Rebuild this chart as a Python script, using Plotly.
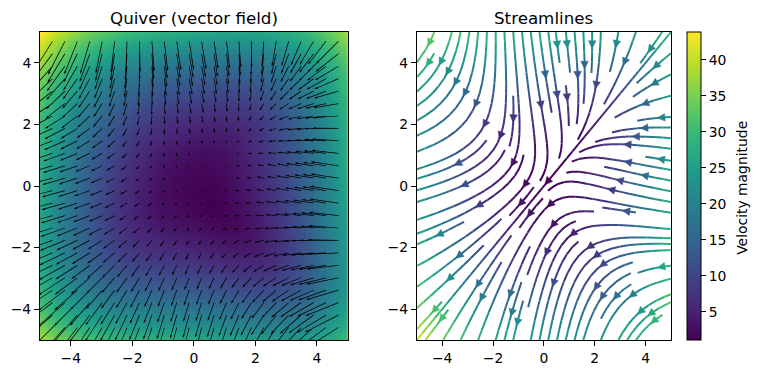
import numpy as np
import plotly.graph_objects as go
from plotly.colors import sample_colorscale

# ------------------------------------------------------------------ data
# grid of the vector field (100 x 100 samples over [-5, 5])
x_values = np.linspace(-5, 5, 100)
y_values = np.linspace(-5, 5, 100)
# field:  U = -1 - x^2 + y ,  V = -1 + x - y^2
u_const, u_x2, u_y = -1.0, -1.0, 1.0
v_const, v_x, v_y2 = -1.0, 1.0, -1.0
quiver_step = 4
quiver_scale = 25.0          # vector units per data unit of arrow length
image_extent = [-5, 5, -5, 5]
x_ticks = [-4, -2, 0, 2, 4]
y_ticks = [-4, -2, 0, 2, 4]
colorbar_ticks = [5, 10, 15, 20, 25, 30, 35, 40]
titles = ["Quiver (vector field)", "Streamlines"]
colorbar_title = "Velocity magnitude"

X, Y = np.meshgrid(x_values, y_values)
U = u_const + u_x2 * X**2 + u_y * Y
V = v_const + v_x * X + v_y2 * Y**2
speed = np.sqrt(U**2 + V**2)

# ------------------------------------------------------------------ layout (px)
W, H = 757, 374
AX1 = (40.2, 347.7)
AX2 = (416.7, 670.7)
AY = (32.4, 339.6)          # top, bottom
CB_X = (686.7, 700.7)
ML, MR, MT, MB = AX1[0], W - CB_X[1], AY[0], H - AY[1]
PW, PH = W - ML - MR, H - MT - MB
FONT = "DejaVu Sans"
TICK_SIZE = 13.9
TITLE_SIZE = 16.7


def fx(p):
    return (p - ML) / PW


def fy(p):
    return (AY[1] - p) / PH


# ------------------------------------------------------------------ streamplot port
class OutOfBounds(IndexError):
    pass


class InvalidIndexError(Exception):
    pass


class TerminateTrajectory(Exception):
    pass


def interpgrid(a, xi, yi):
    Ny, Nx = a.shape
    if isinstance(xi, np.ndarray):
        x = xi.astype(int)
        y = yi.astype(int)
        xn = np.clip(x + 1, 0, Nx - 1)
        yn = np.clip(y + 1, 0, Ny - 1)
    else:
        x = int(xi)
        y = int(yi)
        xn = x if x == Nx - 1 else x + 1
        yn = y if y == Ny - 1 else y + 1
    a00 = a[y, x]
    a01 = a[y, xn]
    a10 = a[yn, x]
    a11 = a[yn, xn]
    xt = xi - x
    yt = yi - y
    a0 = a00 * (1 - xt) + a01 * xt
    a1 = a10 * (1 - xt) + a11 * xt
    return a0 * (1 - yt) + a1 * yt


def gen_starting_points(shape):
    ny, nx = shape
    xfirst, yfirst = 0, 1
    xlast, ylast = nx - 1, ny - 1
    x, y = 0, 0
    direction = 'right'
    for _ in range(nx * ny):
        yield x, y
        if direction == 'right':
            x += 1
            if x >= xlast:
                xlast -= 1
                direction = 'up'
        elif direction == 'up':
            y += 1
            if y >= ylast:
                ylast -= 1
                direction = 'left'
        elif direction == 'left':
            x -= 1
            if x <= xfirst:
                xfirst += 1
                direction = 'down'
        elif direction == 'down':
            y -= 1
            if y <= yfirst:
                yfirst += 1
                direction = 'right'


def streamplot_trajectories(x, y, u, v, density=1.0, minlength=0.1, maxlength=4.0):
    gnx, gny = len(x), len(y)
    gdx = x[1] - x[0]
    gdy = y[1] - y[0]
    mnx = mny = int(30 * density)
    mask = np.zeros((mny, mnx))
    state = {'traj': [], 'cur': None}
    xg2m = (mnx - 1) / (gnx - 1)
    yg2m = (mny - 1) / (gny - 1)

    def within_grid(xi, yi):
        return 0 <= xi <= gnx - 1 and 0 <= yi <= gny - 1

    def grid2mask(xi, yi):
        return round(xi * xg2m), round(yi * yg2m)

    def mask_update(xm, ym):
        if state['cur'] != (xm, ym):
            if mask[ym, xm] == 0:
                state['traj'].append((ym, xm))
                mask[ym, xm] = 1
                state['cur'] = (xm, ym)
            else:
                raise InvalidIndexError

    def start_trajectory(xg, yg):
        xm, ym = grid2mask(xg, yg)
        state['traj'] = []
        mask_update(xm, ym)

    def reset_start_point(xg, yg):
        state['cur'] = grid2mask(xg, yg)

    def update_trajectory(xg, yg):
        if not within_grid(xg, yg):
            raise InvalidIndexError
        xm, ym = grid2mask(xg, yg)
        mask_update(xm, ym)

    def undo_trajectory():
        for t in state['traj']:
            mask[t] = 0

    ug = u / gdx
    vg = v / gdy
    spd = np.sqrt((ug / (gnx - 1))**2 + (vg / (gny - 1))**2)

    def forward_time(xi, yi):
        if not within_grid(xi, yi):
            raise OutOfBounds
        ds_dt = interpgrid(spd, xi, yi)
        if ds_dt == 0:
            raise TerminateTrajectory
        dt_ds = 1.0 / ds_dt
        return interpgrid(ug, xi, yi) * dt_ds, interpgrid(vg, xi, yi) * dt_ds

    def backward_time(xi, yi):
        a, b = forward_time(xi, yi)
        return -a, -b

    def euler_step(traj, f):
        xi, yi = traj[-1]
        cx, cy = f(xi, yi)
        if cx == 0:
            dsx = np.inf
        elif cx < 0:
            dsx = xi / -cx
        else:
            dsx = (gnx - 1 - xi) / cx
        if cy == 0:
            dsy = np.inf
        elif cy < 0:
            dsy = yi / -cy
        else:
            dsy = (gny - 1 - yi) / cy
        ds = min(dsx, dsy)
        traj.append((xi + cx * ds, yi + cy * ds))
        return ds, traj

    def rk12(x0, y0, f):
        maxerror = 0.003
        maxds = min(1.0 / mnx, 1.0 / mny, 0.1)
        ds = maxds
        stotal = 0
        xi, yi = x0, y0
        traj = []
        while True:
            try:
                if within_grid(xi, yi):
                    traj.append((xi, yi))
                else:
                    raise OutOfBounds
                k1x, k1y = f(xi, yi)
                k2x, k2y = f(xi + ds * k1x, yi + ds * k1y)
            except OutOfBounds:
                if traj:
                    ds, traj = euler_step(traj, f)
                    stotal += ds
                break
            except TerminateTrajectory:
                break
            dx1, dy1 = ds * k1x, ds * k1y
            dx2, dy2 = ds * 0.5 * (k1x + k2x), ds * 0.5 * (k1y + k2y)
            error = np.hypot((dx2 - dx1) / (gnx - 1), (dy2 - dy1) / (gny - 1))
            if error < maxerror:
                xi += dx2
                yi += dy2
                try:
                    update_trajectory(xi, yi)
                except InvalidIndexError:
                    break
                if stotal + ds > maxlength:
                    break
                stotal += ds
            if error == 0:
                ds = maxds
            else:
                ds = min(maxds, 0.85 * ds * (maxerror / error) ** 0.5)
        return stotal, traj

    def integrate(x0, y0):
        try:
            start_trajectory(x0, y0)
        except InvalidIndexError:
            return None
        stotal = 0.0
        xy = []
        s, xyt = rk12(x0, y0, backward_time)
        stotal += s
        xy += xyt[::-1]
        reset_start_point(x0, y0)
        s, xyt = rk12(x0, y0, forward_time)
        stotal += s
        xy += xyt[1:]
        if stotal > minlength:
            return np.array(xy, dtype=float)
        undo_trajectory()
        return None

    trajs = []
    for xm, ym in gen_starting_points(mask.shape):
        if mask[ym, xm] == 0:
            xg, yg = xm / xg2m, ym / yg2m
            t = integrate(xg, yg)
            if t is not None:
                trajs.append(t)
    return trajs, gdx, gdy


# ------------------------------------------------------------------ figure
fig = go.Figure()
vmin, vmax = float(speed.min()), float(speed.max())

# background image (drawn like imshow with origin 'upper')
img_dx = (image_extent[1] - image_extent[0]) / speed.shape[1]
img_dy = (image_extent[3] - image_extent[2]) / speed.shape[0]
fig.add_trace(go.Heatmap(
    z=speed[::-1], x0=image_extent[0] + img_dx / 2, dx=img_dx,
    y0=image_extent[2] + img_dy / 2, dy=img_dy,
    colorscale='Viridis', zmin=vmin, zmax=vmax, xaxis='x', yaxis='y',
    hoverinfo='skip',
    colorbar=dict(
        x=fx(CB_X[0]), xanchor='left', xpad=0, ypad=0,
        y=0.5, yanchor='middle', len=1.0, lenmode='fraction',
        thickness=CB_X[1] - CB_X[0], thicknessmode='pixels',
        outlinewidth=1, outlinecolor='black',
        ticks='outside', ticklen=5, tickwidth=1, tickcolor='black',
        tickvals=colorbar_ticks, ticktext=[str(t) for t in colorbar_ticks],
        tickfont=dict(family=FONT, size=TICK_SIZE, color='black'),
    ),
))

# quiver arrows (matplotlib-like arrow shape)
ax1_w = AX1[1] - AX1[0]
data_w = image_extent[1] - image_extent[0]
px_x1 = ax1_w / data_w
px_y1 = (AY[1] - AY[0]) / (image_extent[3] - image_extent[2])
xq = X[::quiver_step, ::quiver_step].ravel()
yq = Y[::quiver_step, ::quiver_step].ravel()
uq = U[::quiver_step, ::quiver_step].ravel()
vq = V[::quiver_step, ::quiver_step].ravel()
aq = np.hypot(uq, vq)
Nq = aq.size
sn = max(10, np.sqrt(Nq))
q_width = 0.06 / sn                       # in axes widths
len_axes = aq / quiver_scale / data_w     # arrow length in axes widths
length = (len_axes / q_width).reshape(-1, 1)
headwidth, headlength, headaxislength = 3.0, 5.0, 4.5
minsh = 1.0 * headlength
xs_ = np.array([0, -headaxislength, -headlength, 0.0]) + np.array([0, 1, 1, 1.0]) * length
ys_ = np.repeat((0.5 * np.array([1, 1, headwidth, 0.0]))[None, :], Nq, axis=0)
x0_ = np.array([0, minsh - headaxislength, minsh - headlength, minsh])
y0_ = 0.5 * np.array([1, 1, headwidth, 0.0])
ii = [0, 1, 2, 3, 2, 1, 0, 0]
XA = xs_[:, ii]
YA = ys_[:, ii].copy()
YA[:, 3:-1] *= -1
X0 = x0_[ii]
Y0 = y0_[ii].copy()
Y0[3:-1] *= -1
shrink = length / minsh
X0 = shrink * X0[None, :]
Y0 = shrink * Y0[None, :]
short = np.repeat(length < minsh, 8, axis=1)
np.copyto(XA, X0, where=short)
np.copyto(YA, Y0, where=short)
tooshort = np.repeat(length < 1.0, 8, axis=1)
th = np.arange(0, 8, 1.0) * (np.pi / 3.0)
np.copyto(XA, np.repeat((np.cos(th) * 0.5)[None, :], Nq, axis=0), where=tooshort)
np.copyto(YA, np.repeat((np.sin(th) * 0.5)[None, :], Nq, axis=0), where=tooshort)
theta = np.angle(uq + 1j * vq)
verts = (XA + 1j * YA) * np.exp(1j * theta)[:, None] * q_width
vx = xq[:, None] + verts.real * ax1_w / px_x1
vy = yq[:, None] + verts.imag * ax1_w / px_y1
qx, qy = [], []
for i in range(Nq):
    qx.extend(vx[i].tolist() + [None])
    qy.extend(vy[i].tolist() + [None])
fig.add_trace(go.Scatter(x=qx, y=qy, mode='lines', fill='toself', fillcolor='black',
                         line=dict(width=0, color='black'), xaxis='x', yaxis='y',
                         hoverinfo='skip', showlegend=False))

# streamlines
trajs, gdx, gdy = streamplot_trajectories(x_values, y_values, U, V)
NB = 128
bin_colors = sample_colorscale('Viridis', [(i + 0.5) / NB for i in range(NB)])
line_bins = {i: ([], []) for i in range(NB)}
head_bins = {i: ([], []) for i in range(NB)}
ax2_w = AX2[1] - AX2[0]
px_x2 = ax2_w / 10.0
px_y2 = (AY[1] - AY[0]) / 10.0
HEAD_L, HEAD_HW = 7.6, 3.8


def to_bin(val):
    f = (val - vmin) / (vmax - vmin)
    return int(min(NB - 1, max(0, np.floor(f * NB))))


for t in trajs:
    tgx, tgy = t[:, 0], t[:, 1]
    tx = tgx * gdx + x_values[0]
    ty = tgy * gdy + y_values[0]
    cvals = interpgrid(speed, tgx, tgy)[:-1]
    bins = [to_bin(c) for c in cvals]
    start = 0
    for k in range(1, len(bins) + 1):
        if k == len(bins) or bins[k] != bins[start]:
            bx, by = line_bins[bins[start]]
            bx.extend(tx[start:k + 1].tolist() + [None])
            by.extend(ty[start:k + 1].tolist() + [None])
            start = k
    s = np.cumsum(np.hypot(np.diff(tx), np.diff(ty)))
    n = int(np.searchsorted(s, s[-1] / 2.0))
    tail = np.array([tx[n], ty[n]])
    head = np.array([np.mean(tx[n:n + 2]), np.mean(ty[n:n + 2])])
    d = np.array([(head[0] - tail[0]) * px_x2, (head[1] - tail[1]) * px_y2])
    nd = np.hypot(*d)
    if nd == 0:
        continue
    d /= nd
    p = np.array([-d[1], d[0]])
    tip_px = d * 1.0
    base_px = tip_px - d * HEAD_L
    c1 = base_px + p * HEAD_HW
    c2 = base_px - p * HEAD_HW
    pts = [tip_px, c1, c2, tip_px]
    hb = head_bins[bins[n] if n < len(bins) else bins[-1]]
    hb[0].extend([head[0] + q[0] / px_x2 for q in pts] + [None])
    hb[1].extend([head[1] + q[1] / px_y2 for q in pts] + [None])

for i in range(NB):
    bx, by = line_bins[i]
    if bx:
        fig.add_trace(go.Scatter(x=bx, y=by, mode='lines',
                                 line=dict(color=bin_colors[i], width=2),
                                 xaxis='x2', yaxis='y2', hoverinfo='skip', showlegend=False))
for i in range(NB):
    hx, hy = head_bins[i]
    if hx:
        fig.add_trace(go.Scatter(x=hx, y=hy, mode='lines', fill='toself',
                                 fillcolor=bin_colors[i],
                                 line=dict(color=bin_colors[i], width=0.5),
                                 xaxis='x2', yaxis='y2', hoverinfo='skip', showlegend=False))

axis_common = dict(showline=True, mirror=True, linecolor='black', linewidth=1,
                   ticks='outside', ticklen=5, tickwidth=1, tickcolor='black',
                   showgrid=False, zeroline=False, automargin=False,
                   tickfont=dict(family=FONT, size=TICK_SIZE, color='black'))

fig.update_layout(
    width=W, height=H, autosize=False,
    margin=dict(l=ML, r=MR, t=MT, b=MB, pad=0),
    paper_bgcolor='white', plot_bgcolor='white',
    showlegend=False,
    xaxis=dict(domain=[fx(AX1[0]), fx(AX1[1])], range=[-5, 5], tickvals=x_ticks,
               anchor='y', **axis_common),
    yaxis=dict(domain=[0, 1], range=[-5, 5], tickvals=y_ticks,
               anchor='x', **axis_common),
    xaxis2=dict(domain=[fx(AX2[0]), fx(AX2[1])], range=[-5, 5], tickvals=x_ticks,
                anchor='y2', **axis_common),
    yaxis2=dict(domain=[0, 1], range=[-5, 5], tickvals=y_ticks,
                anchor='x2', **axis_common),
    annotations=[
        dict(text=titles[0], x=fx((AX1[0] + AX1[1]) / 2), y=fy(18.5),
             xref='paper', yref='paper', xanchor='center', yanchor='middle',
             showarrow=False, font=dict(family=FONT, size=TITLE_SIZE, color='black')),
        dict(text=titles[1], x=fx((AX2[0] + AX2[1]) / 2), y=fy(18.5),
             xref='paper', yref='paper', xanchor='center', yanchor='middle',
             showarrow=False, font=dict(family=FONT, size=TITLE_SIZE, color='black')),
        dict(text=colorbar_title, x=fx(741), y=fy(187.5), textangle=-90,
             xref='paper', yref='paper', xanchor='center', yanchor='middle',
             showarrow=False, font=dict(family=FONT, size=TICK_SIZE, color='black')),
    ],
)

fig.write_html("out.html", config={"displayModeBar": False},
               post_script="document.body.style.margin='0px';")
